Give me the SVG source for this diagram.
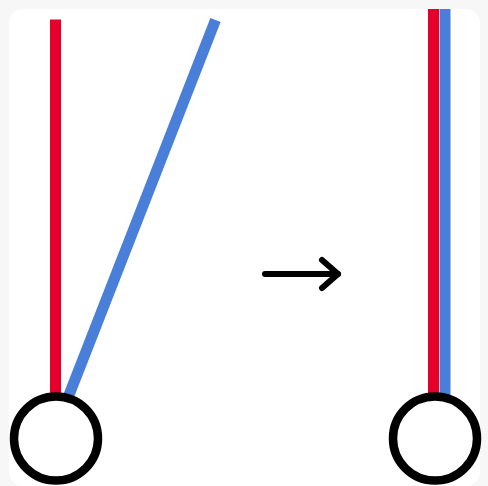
<svg xmlns="http://www.w3.org/2000/svg" width="488" height="486" viewBox="0 0 488 486">
<style>
.red{stroke:#e4002b;stroke-width:11;fill:none}
.blue{stroke:#4a7fd9;stroke-width:11;fill:none}
.ring{stroke:#000;stroke-width:8.5;fill:#fff}
.arrow{stroke:#000;stroke-width:6;fill:none;stroke-linecap:round;stroke-linejoin:round}
</style>
<rect width="488" height="486" fill="#f7f7f7"/>
<rect x="9" y="9" width="471" height="477" rx="14" fill="#fff"/>
<g id="connectors">
<line class="red" x1="55.5" y1="19.5" x2="55.5" y2="395"/>
<line class="blue" x1="69" y1="395" x2="215.5" y2="20"/>
<line class="red" x1="433.5" y1="9" x2="433.5" y2="395"/>
<line class="blue" x1="445" y1="9" x2="445" y2="395"/>
<g id="arrow">
<line class="arrow" x1="265" y1="274" x2="338" y2="274"/>
<polyline class="arrow" points="322,260 338,274 322,288"/>
</g>
</g>
<g id="left-circle"><circle class="ring" cx="56" cy="438.5" r="42"/></g>
<g id="right-circle"><circle class="ring" cx="435" cy="438.5" r="42"/></g>
</svg>
